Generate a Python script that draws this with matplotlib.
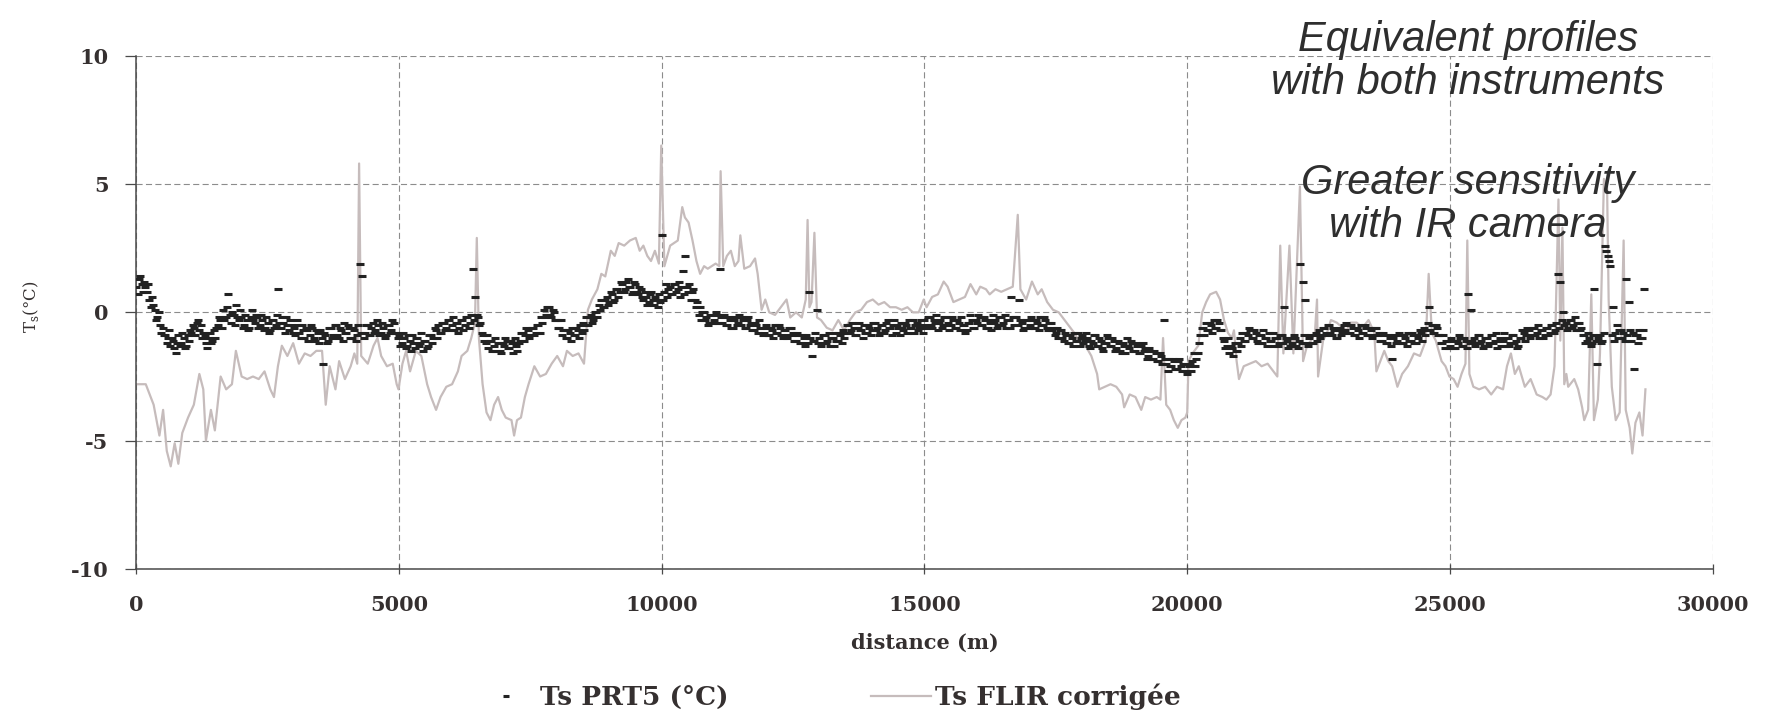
import numpy as np
import matplotlib
matplotlib.use('Agg')
import matplotlib.pyplot as plt

# PRT5 radiometer surface temperature (°C), one reading every 25 m along the transect
prt5_step = 25
prt5_temp = [
    1.0, 0.7, 1.3, 1.4, 1.1, 0.8, 1.2, 1.0, 0.8, 1.1, 0.5, 0.2, 0.6, 0.3, 0.1, -0.3, -0.2, 0.0, -0.5, -0.8,
    -0.6, -0.9, -0.9, -1.2, -1.0, -0.7, -1.3, -1.0, -1.1, -1.4, -1.6, -1.2, -0.9, -1.3, -1.2, -0.8, -1.0, -1.4, -1.3, -0.9,
    -1.1, -0.7, -0.8, -0.5, -0.6, -0.9, -0.4, -0.3, -0.7, -0.5, -1.0, -0.8, -0.9, -1.2, -1.4, -1.0, -0.8, -1.2, -1.1, -0.7,
    -1.0, -0.6, -0.5, -0.2, -0.3, -0.6, 0.1, -0.3, -0.2, 0.2, 0.7, -0.1, -0.4, 0.0, -0.1, -0.5, 0.3, -0.2, -0.3, 0.1,
    -0.2, -0.6, -0.5, -0.1, -0.3, -0.7, -0.6, -0.2, 0.1, -0.3, -0.4, -0.1, -0.2, -0.6, -0.5, -0.1, -0.3, -0.7, -0.6, -0.2,
    -0.4, -0.8, -0.7, -0.3, -0.3, -0.6, -0.5, -0.1, 0.9, -0.4, -0.6, -0.2, -0.4, -0.8, -0.2, -0.5, -0.7, -0.3, -0.5, -0.8,
    -0.6, -0.9, -0.3, -0.5, -0.8, -1.0, -0.5, -0.7, -1.0, -0.6, -0.7, -1.1, -0.9, -0.5, -0.6, -1.0, -1.1, -0.7, -0.8, -1.2,
    -0.7, -1.0, -2.0, -0.8, -0.9, -1.2, -1.1, -0.6, -0.6, -1.0, -0.9, -0.5, -0.5, -0.9, -1.0, -0.6, -0.7, -1.1, -0.4, -0.8,
    -0.8, -0.5, -0.6, -1.0, -1.0, -0.6, -0.7, -1.1, -0.9, -0.5, 1.9, -0.8, 1.4, -1.0, -0.8, -0.5, -0.5, -0.9, -0.9, -0.6,
    -0.4, -0.8, -0.7, -0.3, -0.5, -0.9, -0.8, -0.4, -0.6, -1.0, -0.9, -0.5, -0.5, -0.8, -0.7, -0.3, -0.4, -0.8, -0.8, -1.0,
    -0.9, -1.3, -1.2, -0.8, -1.0, -1.4, -1.3, -0.9, -1.1, -1.5, -0.9, -1.2, -1.4, -1.0, -1.0, -1.3, -1.2, -0.8, -1.5, -1.1,
    -1.1, -1.4, -1.3, -0.9, -0.9, -1.2, -1.0, -0.6, -0.7, -1.0, -0.5, -0.8, -0.8, -0.4, -0.4, -0.7, -0.6, -0.3, -0.3, -0.7,
    -0.5, -0.2, -0.7, -0.4, -0.4, -0.8, -0.6, -0.3, -0.3, -0.7, -0.5, -0.2, -0.2, -0.6, -0.4, -0.1, 1.7, -0.3, 0.6, -0.1,
    -0.2, -0.5, -0.4, -0.8, -0.9, -1.1, -1.2, -0.9, -1.4, -1.1, -1.1, -1.5, -1.3, -1.0, -1.5, -1.2, -1.2, -1.5, -1.6, -1.2,
    -1.3, -1.0, -1.1, -1.4, -1.4, -1.1, -1.2, -1.6, -1.0, -1.3, -1.5, -1.2, -1.1, -0.8, -0.8, -1.1, -0.9, -0.6, -0.7, -1.0,
    -0.9, -0.6, -0.6, -0.9, -0.8, -0.5, -0.5, -0.8, -0.2, -0.4, 0.1, -0.2, -0.1, 0.2, 0.2, -0.1, -0.2, 0.1, 0.0, -0.3,
    -0.3, -0.6, -0.6, -0.3, -0.9, -0.7, -0.7, -1.0, -1.0, -0.7, -0.8, -1.1, -0.6, -0.9, -0.9, -0.6, -0.7, -1.0, -0.5, -0.8,
    -0.4, -0.7, -0.2, -0.5, -0.5, -0.2, -0.1, -0.4, -0.3, 0.0, 0.0, -0.2, 0.3, 0.1, 0.5, 0.2, 0.2, 0.5, 0.6, 0.3,
    0.4, 0.8, 0.7, 0.4, 0.5, 0.9, 0.9, 0.6, 0.8, 1.2, 1.1, 0.8, 0.9, 1.2, 1.3, 1.0, 1.0, 0.7, 0.8, 1.2,
    1.1, 0.8, 0.7, 1.0, 0.9, 0.6, 0.5, 0.8, 0.6, 0.3, 0.4, 0.7, 0.8, 0.5, 0.3, 0.6, 0.5, 0.2, 0.7, 0.4,
    3.0, 0.5, 0.8, 1.1, 0.6, 0.9, 1.0, 0.7, 0.7, 1.1, 1.1, 0.8, 0.9, 1.2, 0.6, 1.0, 1.6, 0.7, 2.2, 1.0,
    0.8, 1.1, 0.5, 0.8, 0.9, 0.5, 0.2, 0.4, -0.1, 0.2, -0.3, 0.0, 0.0, -0.3, -0.2, -0.5, -0.4, -0.1, -0.1, -0.4,
    -0.3, 0.0, -0.1, -0.4, 1.7, -0.2, -0.4, -0.1, -0.2, -0.5, -0.5, -0.2, -0.3, -0.6, -0.6, -0.3, -0.2, -0.5, -0.4, -0.1,
    -0.5, -0.2, -0.3, -0.6, -0.6, -0.3, -0.2, -0.5, -0.4, -0.7, -0.7, -0.4, -0.5, -0.8, -0.3, -0.6, -0.6, -0.9, -0.8, -0.5,
    -0.6, -0.9, -0.9, -0.6, -0.7, -1.0, -0.5, -0.8, -0.8, -0.5, -0.6, -0.9, -1.0, -0.7, -0.7, -1.0, -0.9, -0.6, -0.6, -0.9,
    -0.8, -1.1, -1.1, -0.8, -0.9, -1.2, -1.2, -0.9, -1.0, -1.3, -0.9, -1.2, 0.8, -1.0, -1.7, -1.1, -1.1, -0.8, 0.1, -1.2,
    -1.0, -1.3, -1.2, -0.9, -0.9, -1.2, -1.1, -0.8, -1.3, -1.0, -1.0, -1.3, -0.8, -1.1, -1.1, -0.8, -0.9, -1.2, -0.7, -1.0,
    -0.8, -0.5, -0.5, -0.8, -0.7, -0.4, -0.6, -0.9, -0.9, -0.6, -0.4, -0.7, -0.7, -1.0, -0.5, -0.8, -0.8, -0.5, -0.6, -0.9,
    -0.7, -0.4, -0.4, -0.7, -0.6, -0.9, -0.8, -0.5, -0.5, -0.8, -0.7, -0.4, -0.3, -0.6, -0.6, -0.9, -0.5, -0.3, -0.8, -0.5,
    -0.6, -0.9, -0.4, -0.6, -0.7, -0.4, -0.5, -0.8, -0.3, -0.6, -0.6, -0.3, -0.8, -0.5, -0.4, -0.7, -0.6, -0.3, -0.5, -0.8,
    -0.3, -0.6, -0.5, -0.2, -0.2, -0.5, -0.6, -0.3, -0.4, -0.1, -0.7, -0.4, -0.3, -0.6, -0.5, -0.2, -0.2, -0.5, -0.4, -0.7,
    -0.5, -0.2, -0.3, -0.6, -0.6, -0.3, -0.4, -0.7, -0.2, -0.5, -0.5, -0.8, -0.7, -0.4, -0.4, -0.1, -0.3, -0.6, -0.6, -0.3,
    -0.4, -0.1, -0.2, -0.5, -0.5, -0.2, -0.3, -0.6, -0.6, -0.3, -0.4, -0.7, -0.1, -0.4, -0.3, -0.6, -0.5, -0.2, -0.2, -0.5,
    -0.4, -0.1, -0.6, -0.3, -0.3, -0.6, 0.6, -0.2, -0.5, -0.2, -0.2, -0.5, 0.5, -0.3, -0.4, -0.7, -0.6, -0.3, -0.3, -0.6,
    -0.5, -0.2, -0.3, -0.6, -0.6, -0.3, -0.4, -0.7, -0.2, -0.5, -0.5, -0.2, -0.3, -0.6, -0.7, -0.4, -0.4, -0.7, -0.6, -0.9,
    -0.8, -0.6, -1.0, -0.7, -0.7, -1.0, -1.1, -0.8, -0.9, -1.2, -1.2, -0.9, -1.0, -1.3, -0.8, -1.1, -1.1, -0.8, -1.3, -1.0,
    -0.9, -1.2, -1.1, -0.8, -1.0, -1.3, -1.4, -1.1, -1.2, -0.9, -0.9, -1.3, -1.3, -1.0, -1.1, -1.4, -1.5, -1.2, -1.2, -0.9,
    -1.0, -1.3, -1.3, -1.0, -1.1, -1.5, -1.4, -1.1, -1.2, -1.5, -1.6, -1.2, -1.3, -1.6, -1.0, -1.3, -1.4, -1.1, -1.2, -1.5,
    -1.5, -1.2, -1.3, -1.6, -1.6, -1.3, -1.2, -1.5, -1.4, -1.8, -1.7, -1.4, -1.5, -1.8, -1.8, -1.5, -1.6, -1.9, -1.9, -1.6,
    -1.7, -2.0, -0.3, -1.8, -2.0, -2.3, -1.8, -2.1, -2.1, -1.8, -1.9, -2.2, -2.2, -1.9, -1.8, -2.1, -2.3, -2.0, -2.0, -2.3,
    -2.4, -2.1, -2.0, -2.3, -1.9, -1.6, -2.1, -1.8, -1.6, -1.2, -0.9, -0.6, -0.6, -0.9, -0.4, -0.7, -0.7, -0.4, -0.5, -0.8,
    -0.3, -0.6, -0.6, -0.3, -0.4, -0.7, -0.7, -1.0, -1.1, -1.4, -1.3, -1.0, -1.6, -1.3, -1.4, -1.7, -1.2, -1.5, -1.5, -1.2,
    -1.0, -1.3, -0.8, -1.1, -1.1, -0.8, -0.9, -0.6, -0.7, -1.0, -1.0, -0.7, -0.8, -1.1, -1.2, -0.9, -0.9, -1.2, -0.7, -1.0,
    -1.0, -1.3, -0.8, -1.1, -1.1, -0.8, -1.3, -1.0, -1.0, -1.3, -1.2, -0.9, -0.9, -1.2, 0.2, -1.0, -1.1, -1.4, -1.3, -1.0,
    -1.2, -0.9, -1.0, -1.3, -1.4, -1.1, 1.9, -1.2, 1.2, -0.9, 0.5, -1.2, -1.3, -1.0, -0.9, -1.2, -1.2, -0.9, -0.8, -1.1,
    -0.7, -1.0, -0.9, -0.6, -0.6, -0.9, -0.8, -0.5, -0.5, -0.8, -0.9, -0.6, -0.7, -1.0, -1.0, -0.7, -0.6, -0.9, -0.8, -0.5,
    -0.7, -0.4, -0.5, -0.8, -0.8, -0.5, -0.6, -0.9, -0.9, -0.6, -0.7, -1.0, -0.5, -0.8, -0.8, -0.5, -0.6, -0.9, -0.9, -0.6,
    -0.7, -1.0, -0.9, -0.6, -0.6, -0.9, -0.8, -1.1, -1.1, -0.8, -0.9, -1.2, -1.2, -0.9, -1.0, -1.3, -1.8, -1.0, -0.9, -1.2,
    -1.1, -0.8, -0.9, -1.2, -1.2, -0.9, -1.0, -1.3, -0.8, -1.1, -1.1, -0.8, -0.9, -1.2, -1.2, -0.9, -1.0, -0.7, -0.8, -1.1,
    -0.6, -0.9, -0.7, -0.4, 0.2, -0.7, -0.5, -0.8, -0.8, -0.5, -0.6, -0.9, -0.9, -1.2, -1.2, -0.9, -1.4, -1.1, -1.1, -1.4,
    -1.3, -1.0, -1.1, -1.4, -1.4, -1.1, -1.2, -0.9, -1.0, -1.3, -1.3, -1.0, -1.1, -1.4, 0.7, -1.2, 0.1, -1.1, -1.0, -1.3,
    -1.2, -0.9, -0.9, -1.2, -1.1, -1.4, -1.3, -1.0, -1.0, -1.3, -1.2, -0.9, -0.9, -1.2, -1.1, -0.8, -1.4, -1.1, -1.0, -1.3,
    -1.1, -0.8, -1.3, -1.0, -1.0, -1.3, -1.2, -0.9, -0.9, -1.2, -1.1, -1.4, -1.3, -1.0, -1.0, -0.7, -0.8, -1.1, -0.9, -0.6,
    -0.7, -1.0, -0.9, -0.6, -0.6, -0.9, -0.8, -0.5, -1.0, -0.7, -0.7, -1.0, -0.9, -0.6, -0.6, -0.9, -0.8, -0.5, -0.5, -0.8,
    -0.7, -0.4, 1.5, -0.6, 1.2, -0.3, 0.0, -0.5, -0.4, -0.7, -0.6, -0.3, -0.3, -0.6, -0.5, -0.2, -0.7, -0.4, -0.4, -0.7,
    -0.6, -0.9, -0.9, -1.2, -1.1, -0.8, -1.0, -1.3, -1.2, -0.9, 0.9, -1.1, -2.0, -1.0, -0.9, -1.2, -1.1, -0.8, 2.6, 2.4,
    2.2, 2.0, 1.8, -0.9, 0.2, -1.1, -0.8, -0.5, -1.0, -0.7, -0.7, -1.0, -0.8, -1.1, 1.3, -0.9, 0.4, -0.7, -1.1, -0.8,
    -2.2, -0.9, -0.9, -1.2, -0.7, -1.0, -1.0, -0.7, 0.9,
]
prt5_dist = np.arange(len(prt5_temp)) * prt5_step

# FLIR camera surface temperature after correction (°C)
flir_dist = [
    0, 180, 330, 440, 510, 580, 655, 730, 800, 875, 985, 1095, 1200, 1275,
    1325, 1420, 1495, 1605, 1710, 1820, 1895, 2005, 2110, 2220, 2330, 2440,
    2550, 2620, 2695, 2770, 2875, 2985, 3095, 3205, 3315, 3425, 3535, 3605,
    3680, 3790, 3860, 3970, 4080, 4150, 4205, 4240, 4280, 4405, 4515, 4590,
    4660, 4770, 4880, 4955, 4990, 5065, 5135, 5210, 5320, 5425, 5535, 5610,
    5705, 5790, 5900, 6010, 6120, 6190, 6300, 6375, 6445, 6480, 6520, 6590,
    6665, 6740, 6810, 6885, 6955, 7030, 7140, 7190, 7245, 7320, 7395, 7465,
    7575, 7685, 7795, 7905, 8010, 8120, 8195, 8305, 8415, 8520, 8595, 8670,
    8775, 8850, 8925, 9030, 9105, 9180, 9285, 9395, 9505, 9580, 9650, 9725,
    9795, 9870, 9945, 9990, 10050, 10160, 10305, 10390, 10440, 10510, 10585,
    10660, 10730, 10805, 10875, 10950, 11025, 11095, 11120, 11170, 11240,
    11315, 11390, 11460, 11495, 11570, 11680, 11775, 11825, 11900, 11970,
    12045, 12155, 12265, 12375, 12445, 12555, 12665, 12740, 12775, 12810,
    12850, 12905, 12955, 13030, 13140, 13250, 13360, 13470, 13580, 13685,
    13795, 13905, 14015, 14125, 14235, 14345, 14455, 14565, 14675, 14780,
    14890, 14985, 15040, 15145, 15255, 15365, 15440, 15550, 15660, 15770,
    15875, 15985, 16060, 16170, 16240, 16350, 16460, 16570, 16680, 16775,
    16825, 16935, 17045, 17155, 17230, 17335, 17445, 17555, 17665, 17775,
    17850, 17960, 18065, 18175, 18285, 18325, 18430, 18540, 18650, 18760,
    18800, 18905, 19015, 19125, 19200, 19310, 19420, 19490, 19540, 19600,
    19675, 19745, 19820, 19890, 19965, 20000, 20025, 20100, 20210, 20285,
    20360, 20435, 20550, 20625, 20700, 20775, 20850, 20890, 20940, 20985,
    21075, 21190, 21305, 21415, 21530, 21640, 21715, 21770, 21830, 21945,
    22020, 22145, 22205, 22280, 22355, 22430, 22470, 22490, 22585, 22660,
    22735, 22845, 22960, 23035, 23110, 23225, 23335, 23450, 23560, 23600,
    23675, 23750, 23825, 23900, 24000, 24090, 24200, 24315, 24430, 24540,
    24595, 24655, 24730, 24840, 24915, 24990, 25070, 25145, 25220, 25295,
    25330, 25370, 25445, 25555, 25670, 25785, 25895, 26010, 26085, 26160,
    26235, 26310, 26425, 26535, 26650, 26760, 26835, 26915, 26990, 27065,
    27100, 27140, 27175, 27215, 27250, 27365, 27440, 27515, 27555, 27630,
    27690, 27740, 27815, 27855, 27930, 27990, 28020, 28080, 28155, 28230,
    28305, 28345, 28420, 28470, 28530, 28605, 28665, 28720,
]
flir_temp = [
    -2.8, -2.8, -3.6, -4.8, -3.8, -5.4, -6.0, -5.1, -5.9, -4.7, -4.1, -3.6, -2.4, -3.0,
    -5.0, -3.8, -4.6, -2.5, -3.0, -2.8, -1.5, -2.5, -2.6, -2.5, -2.6, -2.3,
    -3.0, -3.3, -2.1, -1.3, -1.7, -1.2, -2.0, -1.6, -1.7, -1.5, -1.5, -3.6,
    -2.1, -3.0, -1.9, -2.6, -2.1, -1.6, -2.0, 5.8, -1.7, -2.0, -1.3, -1.0,
    -1.7, -2.1, -2.0, -2.8, -3.0, -2.0, -1.5, -2.3, -1.5, -1.7, -2.8, -3.3,
    -3.8, -3.3, -2.9, -2.8, -2.3, -1.7, -1.5, -1.0, -0.4, 2.9, -1.0, -2.8,
    -3.9, -4.2, -3.6, -3.3, -3.8, -4.1, -4.2, -4.8, -4.2, -4.1, -3.3, -2.8,
    -2.1, -2.5, -2.4, -2.0, -1.7, -2.1, -1.5, -1.7, -1.6, -2.0, 0.1, 0.5,
    0.9, 1.5, 1.4, 2.4, 2.2, 2.7, 2.6, 2.8, 2.9, 2.4, 2.6, 2.2,
    2.0, 2.4, 1.9, 6.5, 1.8, 2.6, 2.8, 4.1, 3.7, 3.5, 2.8,
    2.0, 1.5, 1.8, 1.7, 1.8, 1.9, 1.8, 5.5, 1.8, 2.2,
    2.4, 1.8, 2.0, 3.0, 1.7, 1.8, 2.1, 1.5, 0.1, 0.5,
    0.0, -0.1, 0.2, 0.5, -0.2, 0.0, -0.2, 0.5, 3.6, 0.2,
    0.4, 3.1, -0.2, -0.3, -0.6, -0.7, -0.3, -0.7, -0.3, 0.0,
    0.1, 0.4, 0.5, 0.3, 0.4, 0.2, 0.2, 0.1, 0.2, 0.0,
    0.0, 0.5, 0.2, 0.6, 0.7, 1.2, 1.0, 0.4, 0.5, 0.6,
    1.1, 0.7, 1.0, 0.9, 0.7, 0.9, 0.8, 0.9, 1.0, 3.8,
    0.9, 0.5, 1.2, 0.7, 0.9, 0.4, 0.1, 0.0, -0.3, -0.6,
    -0.8, -1.2, -1.3, -1.7, -2.4, -3.0, -2.9, -2.8, -2.9, -3.2,
    -3.7, -3.2, -3.3, -3.8, -3.3, -3.4, -3.3, -3.4, -1.0, -3.6,
    -3.8, -4.2, -4.5, -4.2, -4.1, -3.9, -1.9, -1.6, -1.3, 0.0,
    0.4, 0.7, 0.8, 0.5, -0.3, -0.8, -1.0, -0.7, -1.9, -2.6,
    -2.1, -2.0, -1.9, -2.1, -2.0, -2.3, -2.5, 2.6, -1.6, 2.6,
    -1.6, 4.9, -1.9, -1.3, -1.1, -0.8, 0.5, -2.5, -1.1, -0.8,
    -0.3, -0.4, -0.6, -0.7, -0.4, -0.4, -0.6, -0.3, -0.8, -2.3,
    -1.9, -1.5, -1.9, -2.1, -2.9, -2.4, -2.1, -1.6, -1.7, -1.1,
    1.5, -0.8, -1.1, -1.9, -2.1, -2.5, -2.6, -2.9, -2.4, -2.0,
    2.8, -2.4, -2.9, -3.0, -2.9, -3.2, -2.9, -3.0, -2.1, -1.6,
    -2.4, -2.1, -2.9, -2.6, -3.2, -3.3, -3.4, -3.2, -2.1, 4.4,
    -1.1, 3.3, -2.8, -2.4, -2.9, -2.6, -3.0, -3.7, -4.2, -3.8,
    0.7, -4.2, -3.4, -1.6, 5.2, 4.9, 0.5, -2.9, -4.2, -3.9,
    2.8, -3.8, -4.5, -5.5, -4.3, -3.9, -4.8, -3.0,
]

x_ticks = [0, 5000, 10000, 15000, 20000, 25000, 30000]
x_tick_labels = ['0', '5000', '10000', '15000', '20000', '25000', '30000']
y_ticks = [-10, -5, 0, 5, 10]
y_tick_labels = ['-10', '-5', '0', '5', '10']

plt.rcParams['font.family'] = ['DejaVu Serif']
plt.rcParams['axes.unicode_minus'] = False

text_color = '#353030'
axis_color = '#4a4a4a'

fig = plt.figure(figsize=(17.69, 7.12), dpi=100)
ax = fig.add_axes([0.07705, 0.20084, 0.89112, 0.72093])

flir_line, = ax.plot(flir_dist, flir_temp, color='#c6bcbc', lw=1.6, zorder=2,
                     label='Ts FLIR corrigée')
prt5_line, = ax.plot(prt5_dist, prt5_temp, ls='none', marker='_', ms=6, mew=2.2,
                     color='#222222', zorder=3, label='Ts PRT5 (°C)')

ax.set_xlim(0, 30000)
ax.set_ylim(-10, 10)
ax.set_xticks(x_ticks, labels=x_tick_labels, fontsize=15, fontweight='bold', color=text_color)
ax.set_yticks(y_ticks, labels=y_tick_labels, fontsize=15, fontweight='bold', color=text_color)
ax.tick_params(axis='x', direction='inout', length=7, width=0.9, color=axis_color, pad=15)
ax.tick_params(axis='y', direction='out', length=8, width=0.9, color=axis_color, pad=12)

ax.grid(True, color='#8c8c8c', lw=0.8, ls=(0, (5.5, 3)))
ax.set_axisbelow(True)
for side in ['top', 'right']:
    ax.spines[side].set_visible(False)
for side in ['left', 'bottom']:
    ax.spines[side].set_color(axis_color)
    ax.spines[side].set_linewidth(1.1)

ax.set_xlabel('distance (m)', fontsize=15, fontweight='bold', color=text_color, va='center')
ax.xaxis.set_label_coords(0.5, -0.144)
ax.set_ylabel('T$_\\mathregular{s}$(°C)', fontsize=12, color=text_color, va='center')
ax.yaxis.set_label_coords(-0.0668, 0.51)

fig.legend(handles=[prt5_line, flir_line], loc='center', bbox_to_anchor=(0.468, 0.021),
           ncol=2, frameon=False, prop={'family': 'DejaVu Serif', 'weight': 'bold', 'size': 19},
           labelcolor=text_color, handlelength=2.31, handletextpad=0.12,
           columnspacing=5.4, markerscale=0.7)

# the baseline given here is that of the second line of each note
note_style = dict(ha='center', va='baseline', fontsize=30, style='italic',
                  family='Liberation Sans', color='#2e2e2e', linespacing=1.1,
                  multialignment='center', zorder=5)
fig.text(0.8299, 0.8675, 'Equivalent profiles\nwith both instruments', **note_style)
fig.text(0.8299, 0.6675, 'Greater sensitivity\nwith IR camera', **note_style)

fig.savefig('out.png', dpi=100, facecolor='white')
